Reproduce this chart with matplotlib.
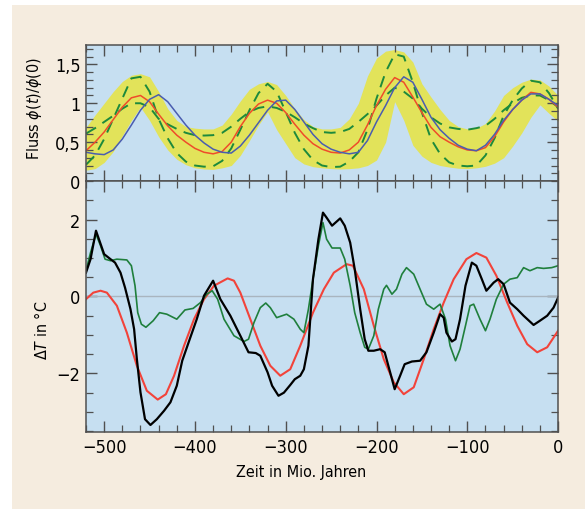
import numpy as np
import matplotlib.pyplot as plt
from matplotlib.patches import Rectangle
from matplotlib.ticker import MultipleLocator

plt.rcParams['font.family'] = ['DejaVu Sans']
plt.rcParams['font.stretch'] = 'condensed'
plt.rcParams['mathtext.fontset'] = 'dejavusans'

# top panel: flux, sampled every 10 Myr
t_flux = np.arange(-520, 1, 10)
flux_red = [0.39, 0.5, 0.63, 0.79, 0.95, 1.07, 1.10, 1.02, 0.86, 0.71, 0.59, 0.5, 0.42,
            0.37, 0.35, 0.38, 0.5, 0.7, 0.87, 0.99, 1.04, 1.0, 0.88,
            0.73, 0.59, 0.48, 0.41, 0.37, 0.36, 0.4, 0.5, 0.72, 0.97,
            1.18, 1.33, 1.27, 1.08, 0.88, 0.69, 0.57, 0.5, 0.44, 0.4,
            0.39, 0.43, 0.57, 0.76, 0.92, 1.04, 1.14, 1.12, 1.05, 0.95]
flux_blue = [0.37, 0.35, 0.34, 0.4, 0.54, 0.72, 0.91, 1.05, 1.11, 1.02, 0.87, 0.72, 0.59,
             0.49, 0.41, 0.37, 0.36, 0.45, 0.59, 0.75, 0.91, 1.03, 1.04,
             0.92, 0.76, 0.6, 0.48, 0.41, 0.37, 0.35, 0.37, 0.52, 0.76,
             0.97, 1.2, 1.34, 1.27, 1.05, 0.82, 0.66, 0.55, 0.46, 0.41,
             0.39, 0.46, 0.6, 0.78, 0.92, 1.04, 1.12, 1.12, 1.05, 0.97]
flux_green_hi = [0.21, 0.33, 0.54, 0.8, 1.06, 1.32, 1.34, 1.15, 0.8, 0.55, 0.36, 0.25, 0.2,
                 0.185, 0.19, 0.26, 0.42, 0.66, 0.91, 1.13, 1.25, 1.15, 0.89,
                 0.62, 0.41, 0.27, 0.2, 0.18, 0.185, 0.25, 0.37, 0.66, 1.06,
                 1.4, 1.63, 1.6, 1.27, 0.88, 0.54, 0.35, 0.24, 0.2, 0.19,
                 0.2, 0.33, 0.55, 0.84, 1.04, 1.19, 1.29, 1.27, 1.13, 0.93]
flux_green_lo = [0.61, 0.68, 0.76, 0.84, 0.93, 1.0, 1.0, 0.95, 0.8, 0.73, 0.67, 0.62, 0.59,
                 0.585, 0.59, 0.62, 0.7, 0.8, 0.89, 0.94, 0.96, 0.94, 0.89,
                 0.82, 0.74, 0.68, 0.63, 0.62, 0.63, 0.67, 0.76, 0.86, 0.97,
                 1.1, 1.2, 1.15, 1.06, 0.93, 0.82, 0.74, 0.69, 0.67, 0.66,
                 0.68, 0.71, 0.8, 0.91, 1.0, 1.07, 1.1, 1.1, 1.04, 0.95]
band_upper = [0.69, 0.85, 1.0, 1.15, 1.28, 1.36, 1.38, 1.34, 1.15, 0.93, 0.78, 0.7, 0.68,
              0.67, 0.67, 0.72, 0.86, 1.03, 1.18, 1.25, 1.28, 1.24, 1.1,
              0.93, 0.79, 0.7, 0.67, 0.67, 0.69, 0.8, 1.0, 1.35, 1.58,
              1.67, 1.69, 1.66, 1.53, 1.25, 1.08, 0.92, 0.78, 0.7, 0.67,
              0.68, 0.74, 0.9, 1.1, 1.2, 1.27, 1.31, 1.3, 1.22, 1.1]
band_lower = [0.14, 0.16, 0.24, 0.38, 0.58, 0.78, 0.95, 0.78, 0.57, 0.4, 0.28, 0.21, 0.17,
              0.155, 0.15, 0.17, 0.2, 0.33, 0.52, 0.72, 0.89, 0.66, 0.48,
              0.3, 0.22, 0.185, 0.17, 0.16, 0.155, 0.16, 0.17, 0.2, 0.27,
              0.5, 1.02, 0.78, 0.46, 0.32, 0.24, 0.2, 0.18, 0.165, 0.16,
              0.17, 0.19, 0.23, 0.3, 0.45, 0.62, 0.82, 0.98, 0.87, 0.77]

# bottom panel: temperature anomaly
t_black = [-520, -515, -509, -500, -493, -488, -482, -477, -471, -467, -464, -460, -455,
           -449, -442, -434, -427, -420, -414, -405, -398, -390, -380, -372, -361, -350,
           -341, -333, -328, -320, -315, -308, -302, -295, -290, -284, -280, -275, -270,
           -264, -259, -255, -249, -240, -235, -229, -224, -218, -213, -209, -203, -196,
           -191, -185, -180, -174, -169, -161, -152, -145, -137, -130, -126, -123, -117,
           -113, -108, -102, -95, -90, -84, -79, -71, -66, -60, -53, -45, -38, -27, -20,
           -12, -5, 0]
dT_black = [0.62, 0.97, 1.71, 1.1, 0.97, 0.88, 0.62, 0.23, -0.33, -0.85, -1.62, -2.49, -3.19,
            -3.34, -3.19, -2.97, -2.75, -2.32, -1.67, -1.06, -0.59, 0.02, 0.41, -0.07, -0.5, -1.02,
            -1.45, -1.47, -1.54, -1.97, -2.32, -2.58, -2.5, -2.3, -2.15, -2.06, -1.89, -1.28, 0.45,
            1.49, 2.18, 2.05, 1.84, 2.03, 1.84, 1.4, 0.71, -0.33, -1.11, -1.41, -1.41, -1.37,
            -1.45, -1.97, -2.41, -2.06, -1.76, -1.69, -1.67, -1.45, -0.94, -0.46, -0.55, -0.94, -1.17,
            -1.11, -0.59, 0.28, 0.88, 0.8, 0.45, 0.15, 0.36, 0.45, 0.32, -0.16, -0.33, -0.5, -0.74, -0.63,
            -0.5, -0.29, -0.03]

t_green = [-520, -515, -509, -504, -499, -493, -486, -475, -470, -466, -463, -459, -454,
           -446, -439, -431, -420, -411, -402, -394, -387, -381, -375, -368, -357, -346,
           -341, -335, -328, -322, -317, -310, -299, -291, -284, -280, -275, -270, -264,
           -259, -255, -249, -240, -235, -229, -224, -218, -213, -209, -203, -198, -192,
           -189, -183, -178, -172, -167, -159, -152, -145, -137, -130, -124, -119, -113,
           -108, -102, -97, -93, -86, -80, -75, -68, -60, -53, -45, -38, -31, -23, -16, -7, 0]
dT_green = [0.67, 1.14, 1.62, 1.32, 0.97, 0.93, 0.97, 0.95, 0.8, 0.28, -0.42, -0.72, -0.8,
            -0.63, -0.42, -0.46, -0.59, -0.35, -0.31, -0.16, 0.06, 0.15, -0.07, -0.59, -1.02, -1.17,
            -1.11, -0.68, -0.29, -0.17, -0.29, -0.55, -0.46, -0.59, -0.85, -0.94, -0.33, 0.45, 1.32,
            1.92, 1.49, 1.26, 1.26, 0.97, 0.28, -0.42, -0.94, -1.32, -1.37, -1.02, -0.33, 0.19,
            0.29, 0.06, 0.19, 0.58, 0.75, 0.58, 0.19, -0.2, -0.33, -0.2, -0.59, -1.28, -1.67,
            -1.37, -0.76, -0.24, -0.2, -0.59, -0.89, -0.59, -0.07, 0.32, 0.45, 0.49, 0.75, 0.67, 0.75, 0.73, 0.75, 0.8]

t_red = [-520, -512, -504, -497, -486, -475, -464, -453, -441, -432, -423, -412, -401, -390,
         -379, -364, -357, -350, -339, -328, -317, -306, -295, -284, -270, -258, -247, -233,
         -226, -214, -203, -192, -181, -170, -159, -148, -137, -126, -115, -101, -90, -79,
         -68, -56, -45, -34, -23, -12, 0]
dT_red = [-0.07, 0.1, 0.15, 0.1, -0.24, -0.94, -1.8, -2.45, -2.68, -2.54, -2.06, -1.28, -0.59, -0.07,
          0.28, 0.47, 0.41, 0.1, -0.59, -1.28, -1.8, -2.06, -1.89, -1.28, -0.42, 0.19, 0.62, 0.84,
          0.8, 0.19, -0.76, -1.63, -2.23, -2.54, -2.36, -1.63, -0.85, -0.16, 0.45, 0.97, 1.13, 1.01,
          0.54, -0.16, -0.76, -1.24, -1.45, -1.32, -0.89]

bg = '#c6dff1'
spine = '#505050'

fig = plt.figure(figsize=(5.85, 5.1), dpi=100)
fig.patches.append(Rectangle((12 / 585, 0), 1, 1 - 6 / 510, transform=fig.transFigure,
                             facecolor='#f5ecdf', edgecolor='none', zorder=-10))

ax1 = fig.add_axes([0.147, 0.643, 0.807, 0.267])
ax2 = fig.add_axes([0.147, 0.1504, 0.807, 0.4926], sharex=ax1)

ax1.fill_between(t_flux, band_lower, band_upper, color='#e2e35a', lw=0)
ax1.plot(t_flux, flux_green_hi, color='#1d8a3c', lw=1.4, dashes=(6, 4))
ax1.plot(t_flux, flux_green_lo, color='#1d8a3c', lw=1.4, dashes=(6, 4))
ax1.plot(t_flux, flux_red, color='#ef4c2a', lw=1.1)
ax1.plot(t_flux, flux_blue, color='#4a5db0', lw=1.1)
ax1.set_ylim(0, 1.75)
ax1.set_yticks([0, 0.5, 1, 1.5])
ax1.set_yticklabels(['0', '0,5', '1', '1,5'])
ax1.yaxis.set_minor_locator(MultipleLocator(0.1))
ax1.set_ylabel(r'Fluss $\phi(t)/\phi(0)$', fontsize=11.5)
ax1.yaxis.set_label_coords(-0.088, 0.54)
ax1.tick_params(labelbottom=False)

ax2.axhline(0, color='#a9b5bf', lw=1)
ax2.plot(t_red, dT_red, color='#f2433a', lw=1.5)
ax2.plot(t_green, dT_green, color='#1f7f3c', lw=1.2)
ax2.plot(t_black, dT_black, color='black', lw=1.6)
ax2.set_xlim(-520, 0)
ax2.set_ylim(-3.53, 3.0)
ax2.set_yticks([-2, 0, 2])
ax2.set_yticklabels(['\u22122', '0', '2'])
ax2.yaxis.set_minor_locator(MultipleLocator(0.5))
ax2.set_xticks([-500, -400, -300, -200, -100, 0])
ax2.set_xticklabels(['\u2212500', '\u2212400', '\u2212300', '\u2212200', '\u2212100', '0'])
ax2.xaxis.set_minor_locator(MultipleLocator(20))
ax2.set_ylabel(r'$\Delta T$ in °C', fontsize=11.5)
ax2.yaxis.set_label_coords(-0.077, 0.41)

fig.text(301 / 585, 1 - 472 / 510, 'Zeit in Mio. Jahren', fontsize=11.5,
         ha='center', va='center')

for ax in (ax1, ax2):
    ax.set_facecolor(bg)
    for s in ax.spines.values():
        s.set_color(spine)
        s.set_linewidth(1.1)
    ax.tick_params(which='both', direction='in', top=True, right=True, color=spine,
                   labelsize=13, pad=4)
    ax.tick_params(which='major', length=8, width=1)
    ax.tick_params(which='minor', length=5, width=0.9)

fig.savefig('out.png', dpi=100)
